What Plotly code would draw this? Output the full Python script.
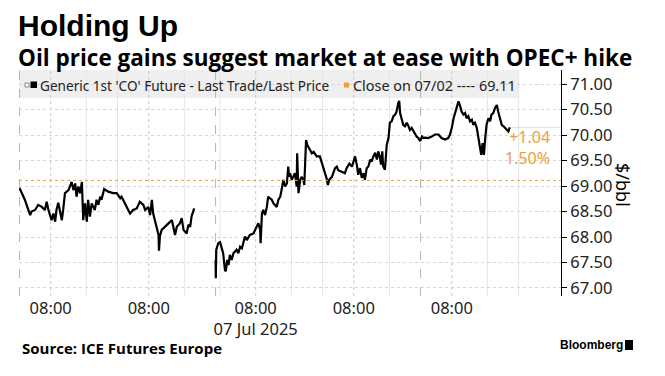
import plotly.graph_objects as go

# ---------------- data (London time, trading hours since 03 Jul 01:00) -------------
seg_a_t = [0.0, 0.5, 1.2, 2.4, 2.7, 3.5, 4.2, 5.0, 5.7, 6.1, 6.5, 7.2, 7.6, 8.0, 8.3, 8.7, 9.1, 9.5, 9.8, 10.2,
           11.0, 11.7, 12.1, 12.5, 12.8, 13.2, 13.6, 14.0, 14.3, 14.7, 15.1, 15.4, 15.8, 16.2, 16.9, 17.3, 17.7, 18.1, 18.4, 19.0,
           19.9, 21.0, 21.8, 22.6, 22.9, 23.7, 24.8, 25.5, 26.3, 27.0, 27.8, 28.2, 28.9, 29.3, 29.7, 30.0, 30.4, 31.2, 31.3, 31.5,
           31.9, 32.7, 33.4, 34.2, 34.9, 35.3, 36.0, 36.4, 36.8, 37.5, 37.9, 38.3, 38.6, 39.0, 39.2]
seg_a_price = [68.96, 68.86, 68.73, 68.43, 68.50, 68.53, 68.63, 68.59, 68.53, 68.69, 68.53, 68.33, 68.46, 68.30, 68.53, 68.67, 68.46, 68.33, 68.53, 68.86,
               68.92, 69.08, 68.92, 69.05, 68.79, 68.99, 68.86, 69.08, 68.33, 68.66, 68.30, 68.73, 68.40, 68.66, 68.53, 68.73, 68.63, 68.79, 68.73, 68.94,
               68.89, 68.86, 68.86, 68.76, 68.79, 68.66, 68.46, 68.53, 68.56, 68.69, 68.63, 68.53, 68.59, 68.43, 68.73, 68.46, 68.30, 68.04, 67.73, 68.01,
               68.14, 68.20, 68.27, 68.33, 68.04, 68.20, 68.27, 68.37, 68.14, 68.07, 68.24, 68.20, 68.40, 68.50, 68.56]

seg_b_t = [44.0, 44.05, 44.15, 44.6, 45.0, 45.4, 45.7, 46.1, 46.3, 46.6,
           46.9, 47.2, 47.6, 48.0, 48.7, 49.1, 49.5, 49.9, 50.6, 51.0,
           51.7, 52.5, 52.8, 53.2, 53.6, 54.0, 54.1, 54.4, 54.7, 55.1,
           55.5, 55.8, 56.2, 56.6, 57.0, 57.3, 57.7, 58.1, 58.5, 58.8,
           59.2, 59.6, 60.0, 60.3, 60.5, 60.7, 61.1, 61.4, 61.8, 62.2,
           62.3, 62.6, 63.0, 63.3, 63.7, 63.9, 64.1, 64.3, 64.6, 65.2,
           65.6, 66.0, 66.4, 66.7, 67.4, 68.0, 68.2, 68.6, 68.9, 69.2,
           69.5, 70.1, 70.4, 70.8, 71.2, 71.5, 72.3, 73.0, 73.4, 74.0,
           74.6, 74.9, 75.3, 75.7, 76.0, 76.4, 76.8, 77.2, 77.5, 77.9,
           78.3, 78.7, 79.0, 79.4, 79.8, 80.2, 80.5, 80.9, 81.1, 81.4,
           81.6, 82.0, 82.2, 82.4, 82.8, 83.1, 83.5, 83.9, 84.3, 84.6,
           85.0, 85.2, 85.4, 85.8, 86.1, 86.5, 86.9, 87.3, 87.6, 88.0,
           88.4, 88.8, 89.1, 89.5, 89.9, 90.3, 90.6, 91.0, 91.7, 92.5,
           93.2, 94.0, 94.7, 95.5, 96.2, 96.6, 97.0, 97.4, 97.7, 98.1,
           98.5, 98.9, 99.2, 99.6, 100.0, 100.3, 100.7, 101.1, 101.5, 101.8,
           102.2, 102.6, 102.9, 103.3, 103.6, 103.9, 104.2, 104.5, 104.8, 105.2,
           105.6, 105.9, 106.3, 106.7, 107.1, 107.4, 107.8, 108.2, 108.6, 108.9,
           109.3, 109.7, 110.0]
seg_b_price = [67.55, 67.19, 67.75, 67.88, 67.90, 67.75, 67.68, 67.35, 67.33, 67.55,
               67.45, 67.65, 67.55, 67.68, 67.75, 67.68, 67.81, 67.78, 68.01, 67.94,
               68.04, 68.07, 68.14, 68.20, 68.27, 68.14, 67.88, 68.46, 68.53, 68.43,
               68.59, 68.79, 68.76, 68.73, 68.66, 68.63, 68.59, 68.73, 68.79, 68.92,
               69.12, 68.99, 69.05, 69.38, 69.18, 69.25, 69.12, 69.18, 69.25, 68.99,
               69.64, 68.86, 69.12, 69.18, 69.12, 69.02, 69.38, 69.90, 69.80, 69.71,
               69.64, 69.67, 69.61, 69.58, 69.58, 69.41, 69.35, 69.25, 69.15, 69.02,
               69.12, 69.18, 69.25, 69.35, 69.38, 69.31, 69.28, 69.25, 69.35, 69.44,
               69.38, 69.48, 69.58, 69.41, 69.22, 69.35, 69.16, 69.25, 69.12, 69.35,
               69.39, 69.52, 69.48, 69.58, 69.65, 69.52, 69.68, 69.55, 69.42, 69.68,
               69.39, 69.32, 69.65, 69.81, 69.94, 70.24, 70.27, 70.37, 70.40, 70.46,
               70.63, 70.67, 70.43, 70.27, 70.20, 70.17, 70.24, 70.17, 70.10, 70.14,
               70.07, 70.01, 69.97, 69.94, 69.88, 69.97, 69.94, 69.95, 69.94, 69.97,
               70.01, 70.01, 69.94, 69.91, 69.94, 70.01, 70.14, 70.33, 70.43, 70.53,
               70.66, 70.56, 70.46, 70.40, 70.43, 70.33, 70.37, 70.27, 70.30, 70.20,
               70.24, 70.14, 69.97, 69.75, 69.61, 69.84, 69.61, 69.94, 70.20, 70.33,
               70.27, 70.40, 70.43, 70.53, 70.59, 70.46, 70.33, 70.20, 70.17, 70.14,
               70.10, 70.07, 70.15]

prev_close = 69.11
change_text = "+1.04"
change_pct_text = "1.50%"

x_tick_vals = [7, 29, 53, 75, 97]
x_tick_text = ["08:00", "08:00", "08:00<br>07 Jul 2025", "08:00", "08:00"]
y_tick_vals = [67.0, 67.5, 68.0, 68.5, 69.0, 69.5, 70.0, 70.5, 71.0]
y_tick_text = ["67.00", "67.50", "68.00", "68.50", "69.00", "69.50", "70.00", "70.50", "71.00"]

grid_dashed = [0, 44, 90]
grid_dotted = [7, 29, 53, 75, 97]
grid_faint = [15, 22, 37, 45, 61, 68, 83, 105, 112]

# ---------------- layout geometry ----------------
W, H = 665, 376
L, R, T, B = 19, 561, 70, 296
X_RANGE = [-0.11, 121.5]
Y_RANGE = [66.843, 71.275]
ORANGE = "#EDA03A"


def px(x):
    return (x - L) / (R - L)


def py(y):
    return (B - y) / (B - T)


fig = go.Figure()
fig.add_trace(go.Scatter(x=seg_a_t, y=seg_a_price, mode="lines",
                         line=dict(color="#000000", width=2.2), showlegend=False, hoverinfo="skip"))
fig.add_trace(go.Scatter(x=seg_b_t, y=seg_b_price, mode="lines",
                         line=dict(color="#000000", width=2.2), showlegend=False, hoverinfo="skip"))

shapes = []
# legend box
shapes.append(dict(type="rect", xref="paper", yref="paper", x0=px(19), x1=px(518), y0=py(98), y1=py(70),
                   fillcolor="#efefef", line=dict(width=0), layer="below"))
for v in grid_faint:
    shapes.append(dict(type="line", xref="x", yref="paper", x0=v, x1=v, y0=0, y1=1,
                       line=dict(color="#e6e6e6", width=1), layer="below"))
for v in grid_dotted:
    shapes.append(dict(type="line", xref="x", yref="paper", x0=v, x1=v, y0=0, y1=1,
                       line=dict(color="#c8c8c8", width=1, dash="dot"), layer="below"))
for v in grid_dashed:
    shapes.append(dict(type="line", xref="x", yref="paper", x0=v, x1=v, y0=0, y1=1,
                       line=dict(color="#b4b4b4", width=1, dash="dash"), layer="below"))
# previous close line
shapes.append(dict(type="line", xref="paper", yref="y", x0=0, x1=1, y0=prev_close, y1=prev_close,
                   line=dict(color=ORANGE, width=1, dash="dot"), layer="above"))
# last value marker line
shapes.append(dict(type="line", xref="x", yref="y", x0=seg_b_t[-1], x1=X_RANGE[1], y0=seg_b_price[-1], y1=seg_b_price[-1],
                   line=dict(color="#f8dcae", width=1), layer="below"))
# legend icons
shapes.append(dict(type="rect", xref="paper", yref="paper", x0=px(25), x1=px(29), y0=py(87), y1=py(83),
                   fillcolor="#ffffff", line=dict(color="#888888", width=1)))
shapes.append(dict(type="rect", xref="paper", yref="paper", x0=px(30.5), x1=px(37), y0=py(88), y1=py(81.5),
                   fillcolor="#000000", line=dict(width=0)))
shapes.append(dict(type="rect", xref="paper", yref="paper", x0=px(344), x1=px(349), y0=py(87.5), y1=py(82.5),
                   fillcolor=ORANGE, line=dict(width=0)))
# bloomberg icon
shapes.append(dict(type="rect", xref="paper", yref="paper", x0=px(625), x1=px(633), y0=py(350), y1=py(340),
                   fillcolor="#000000", line=dict(width=0)))

annotations = [
    dict(text="<b>Holding Up</b>", xref="paper", yref="paper", x=px(16), y=py(25), xanchor="left", yanchor="middle",
         showarrow=False, font=dict(family="Liberation Sans", size=30, color="#000000")),
    dict(text="<b>Oil price gains suggest market at ease with OPEC+ hike</b>", xref="paper", yref="paper",
         x=px(16), y=py(57), xanchor="left", yanchor="middle", showarrow=False,
         font=dict(family="Open Sans", size=22.5, color="#000000")),
    dict(text="Generic 1st 'CO' Future - Last Trade/Last Price", xref="paper", yref="paper",
         x=px(38), y=py(85), xanchor="left", yanchor="middle", showarrow=False,
         font=dict(family="Noto Sans", size=13.6, color="#222222")),
    dict(text="Close on 07/02 ---- 69.11", xref="paper", yref="paper",
         x=px(351), y=py(85), xanchor="left", yanchor="middle", showarrow=False,
         font=dict(family="Noto Sans", size=14.4, color="#222222")),
    dict(text=change_text + "<br>" + change_pct_text, xref="paper", yref="paper", x=px(552), y=py(147.5),
         xanchor="right", yanchor="middle", align="right",
         showarrow=False, font=dict(family="Noto Sans", size=16, color=ORANGE)),
    dict(text="$/bbl", xref="paper", yref="paper", x=px(623), y=py(185), xanchor="center", yanchor="middle",
         textangle=90, showarrow=False, font=dict(family="Noto Sans", size=18, color="#000000")),
    dict(text="<b>Source: ICE Futures Europe</b>", xref="paper", yref="paper", x=px(20), y=py(348),
         xanchor="left", yanchor="middle", showarrow=False,
         font=dict(family="Open Sans", size=15, color="#000000")),
    dict(text="<b>Bloomberg</b>", xref="paper", yref="paper", x=px(558), y=py(345),
         xanchor="left", yanchor="middle", showarrow=False,
         font=dict(family="Liberation Sans", size=12, color="#000000")),
]

fig.update_layout(
    width=W, height=H,
    margin=dict(l=L, r=W - R, t=T, b=H - B, pad=0),
    paper_bgcolor="#ffffff", plot_bgcolor="#ffffff",
    shapes=shapes, annotations=annotations, showlegend=False,
    xaxis=dict(range=X_RANGE, showgrid=False, zeroline=False, showline=False,
               tickvals=x_tick_vals, ticktext=x_tick_text, ticks="",
               tickfont=dict(family="Noto Sans", size=16.5, color="#222222")),
    yaxis=dict(range=Y_RANGE, side="right", showgrid=True, gridcolor="#d6d6d6", griddash="dot", gridwidth=1,
               zeroline=False, showline=True, linecolor="#000000", linewidth=1,
               ticks="outside", ticklen=5, tickcolor="#000000",
               tickvals=y_tick_vals, ticktext=y_tick_text,
               tickfont=dict(family="Noto Sans", size=16.5, color="#222222")),
)

fig.write_html("out.html", config={"displayModeBar": False},
               post_script="document.body.style.margin='0px';")
